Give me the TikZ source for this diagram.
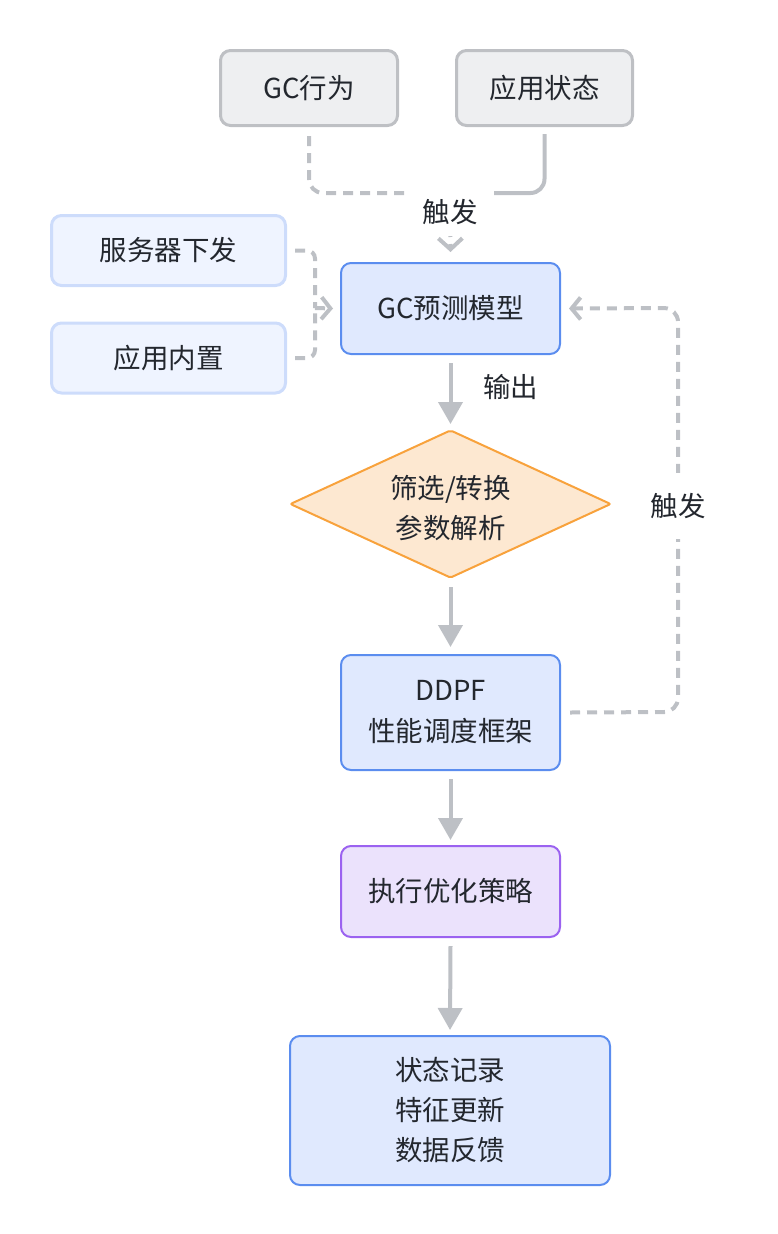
\documentclass[tikz,border=0pt]{standalone}
\usepackage{fontspec}
\setmainfont{Noto Sans CJK SC}
\usetikzlibrary{arrows.meta,shapes.geometric}
\definecolor{txt}{HTML}{23272E}
\definecolor{gfill}{HTML}{EEEFF1}
\definecolor{gline}{HTML}{BEC0C4}
\definecolor{lbfill}{HTML}{EFF4FF}
\definecolor{lbline}{HTML}{CDDCFB}
\definecolor{bfill}{HTML}{E0E9FE}
\definecolor{bline}{HTML}{5B8DEF}
\definecolor{ofill}{HTML}{FDE8D1}
\definecolor{oline}{HTML}{F8A23C}
\definecolor{pfill}{HTML}{EBE2FC}
\definecolor{pline}{HTML}{9B62F0}
\definecolor{cgray}{HTML}{BDC0C5}
\tikzset{
  base/.style={font=\fontsize{27.5}{40}\selectfont, text=txt, align=center, inner sep=0pt, rounded corners=10pt},
  graybox/.style={base, fill=gfill, draw=gline, line width=3pt},
  lbbox/.style={base, fill=lbfill, draw=lbline, line width=3pt},
  bbox/.style={base, fill=bfill, draw=bline, line width=2pt},
  pbox/.style={base, fill=pfill, draw=pline, line width=2pt},
  dbox/.style={diamond, fill=ofill, draw=oline, line width=2pt, rounded corners=2pt, inner sep=0pt},
  lab/.style={font=\fontsize{27.5}{40}\selectfont, text=txt, inner sep=0pt, align=center},
  sconn/.style={draw=cgray, line width=4pt, -{Triangle[length=22pt,width=24pt]}},
  dconn/.style={draw=cgray, line width=4pt, dash pattern=on 10pt off 7pt},
  plainconn/.style={draw=cgray, line width=4pt},
  chev/.style={-{Straight Barb[length=9pt,width=22pt,line width=4pt]}},
  chevb/.style={-{Straight Barb[length=11pt,width=24pt,line width=4pt]}}
}
\begin{document}
\begin{tikzpicture}[x=1pt,y=-1pt]
\useasboundingbox (0,0) rectangle (778,1234);
% nodes
\node[graybox, minimum width=177pt, minimum height=75pt] (gc) at (309,88) {GC行为};
\node[graybox, minimum width=176pt, minimum height=75pt] (app) at (544.5,88) {应用状态};
\node[lbbox, minimum width=234pt, minimum height=70pt] (srv) at (168.5,250.5) {服务器下发};
\node[lbbox, minimum width=234pt, minimum height=70pt] (inb) at (168.5,358) {应用内置};
\node[bbox, minimum width=219pt, minimum height=91pt] (pred) at (450.5,308.5) {GC预测模型};
\node[dbox, minimum width=321pt, minimum height=148pt] (dia) at (450.5,504) {};
\node[lab] (dtxt) at (450.5,508) {筛选/转换\\参数解析};
\node[bbox, minimum width=219pt, minimum height=115pt] (ddpf) at (450.5,712.5) {DDPF\\[1pt]性能调度框架};
\node[pbox, minimum width=219pt, minimum height=91pt] (exec) at (450.5,891.5) {执行优化策略};
\node[bbox, minimum width=320pt, minimum height=149pt] (fin) at (450,1110.5) {状态记录\\特征更新\\数据反馈};
% top merge connectors
\coordinate (m1) at (450,193);
\draw[dconn, rounded corners=14pt] ([yshift=-9pt]gc.south) |- (m1);
\draw[plainconn, rounded corners=14pt] ([yshift=-7pt]app.south) |- (m1);
\draw[dconn, chevb] (m1) -- ([yshift=10pt]pred.north);
\node[lab, fill=white, minimum width=88pt, minimum height=47pt] (t1) at (450,212.5) {触发};
% left connectors
\coordinate (m2) at (315,308);
\draw[dconn, rounded corners=8pt] ([xshift=8pt]srv.east) -| (m2);
\draw[dconn, rounded corners=8pt] ([xshift=8pt]inb.east) -| (m2);
\draw[dconn, chev] (m2) -- ([xshift=-7pt]pred.west);
% main flow
\draw[sconn] ([yshift=-8pt]pred.south) -- ([yshift=5pt]dia.north);
\node[lab, anchor=west] (t2) at (483,387) {输出};
\draw[sconn] ([yshift=-8pt]dia.south) -- ([yshift=7pt]ddpf.north);
\draw[sconn] ([yshift=-8pt]ddpf.south) -- ([yshift=5pt]exec.north);
\draw[sconn] ([yshift=-8pt]exec.south) -- ([yshift=5pt]fin.north);
% feedback loop
\coordinate (r1) at (678,712);
\coordinate (r2) at (678,308);
\draw[dconn, chev, rounded corners=14pt] ([xshift=9pt]ddpf.east) -- (r1) -- (r2) -- ([xshift=8pt]pred.east);
\node[lab, fill=white, minimum width=64pt, minimum height=66pt] (t3) at (678,506) {触发};
\end{tikzpicture}
\end{document}
